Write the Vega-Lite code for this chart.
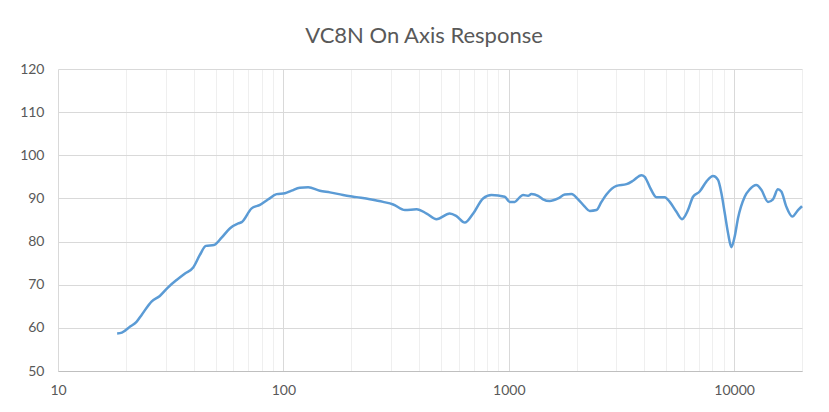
{
  "$schema": "https://vega.github.io/schema/vega-lite/v6.json",
  "autosize": "none",
  "width": 744,
  "height": 302,
  "padding": {"left": 58, "top": 69, "right": 27, "bottom": 41},
  "background": "#ffffff",
  "title": {
    "text": "VC8N On Axis Response",
    "font": "Lato",
    "fontSize": 22,
    "fontWeight": "normal",
    "color": "#595959",
    "anchor": "middle",
    "baseline": "alphabetic",
    "offset": 27,
    "dy": 30,
    "dx": -6
  },
  "config": {
    "view": {"stroke": null},
    "axis": {"labelFont": "Lato", "labelFontSize": 14, "labelColor": "#595959", "ticks": false}
  },
  "data": {
    "values": [
      {"f": 18.3, "db": 58.7}, {"f": 19.2, "db": 58.9}, {"f": 20.9, "db": 60.3}, {"f": 22.3, "db": 61.4},
      {"f": 23.5, "db": 63.0}, {"f": 26.0, "db": 66.1}, {"f": 28.3, "db": 67.4}, {"f": 30.8, "db": 69.4},
      {"f": 33.6, "db": 71.1}, {"f": 36.6, "db": 72.6}, {"f": 39.8, "db": 74.0}, {"f": 42.6, "db": 76.9},
      {"f": 45.3, "db": 79.0}, {"f": 49.2, "db": 79.2}, {"f": 53.2, "db": 80.9}, {"f": 58.0, "db": 83.1},
      {"f": 63.1, "db": 84.2}, {"f": 65.3, "db": 84.5}, {"f": 72.3, "db": 87.7}, {"f": 78.7, "db": 88.5},
      {"f": 85.7, "db": 89.8}, {"f": 93.3, "db": 91.0}, {"f": 101.6, "db": 91.2}, {"f": 108.7, "db": 91.8},
      {"f": 118.3, "db": 92.5}, {"f": 128.9, "db": 92.6}, {"f": 145, "db": 91.8}, {"f": 160.8, "db": 91.4},
      {"f": 184, "db": 90.8}, {"f": 211, "db": 90.3}, {"f": 242, "db": 89.8}, {"f": 277, "db": 89.2},
      {"f": 307, "db": 88.6}, {"f": 346, "db": 87.3}, {"f": 390, "db": 87.5}, {"f": 432, "db": 86.5},
      {"f": 478, "db": 85.2}, {"f": 547, "db": 86.5}, {"f": 586, "db": 85.9}, {"f": 638, "db": 84.4},
      {"f": 695, "db": 86.5}, {"f": 769, "db": 90.0}, {"f": 838, "db": 90.8}, {"f": 960, "db": 90.4},
      {"f": 1009, "db": 89.2}, {"f": 1063, "db": 89.2}, {"f": 1119, "db": 90.3}, {"f": 1157, "db": 90.8},
      {"f": 1218, "db": 90.6}, {"f": 1260, "db": 91.0}, {"f": 1349, "db": 90.6}, {"f": 1419, "db": 89.8},
      {"f": 1520, "db": 89.4}, {"f": 1656, "db": 90.0}, {"f": 1772, "db": 90.9}, {"f": 1898, "db": 91.0},
      {"f": 2030, "db": 89.8}, {"f": 2173, "db": 88.1}, {"f": 2287, "db": 87.1}, {"f": 2450, "db": 87.3},
      {"f": 2578, "db": 89.2}, {"f": 2712, "db": 90.9}, {"f": 3005, "db": 92.9}, {"f": 3330, "db": 93.3},
      {"f": 3560, "db": 94.1}, {"f": 3876, "db": 95.4}, {"f": 4010, "db": 95.0}, {"f": 4220, "db": 92.7},
      {"f": 4520, "db": 90.3}, {"f": 4920, "db": 90.3}, {"f": 5180, "db": 89.2}, {"f": 5545, "db": 86.9},
      {"f": 5870, "db": 85.2}, {"f": 6240, "db": 87.3}, {"f": 6570, "db": 90.4}, {"f": 7030, "db": 91.6},
      {"f": 7530, "db": 93.9}, {"f": 8060, "db": 95.2}, {"f": 8480, "db": 94.3}, {"f": 8780, "db": 91.2},
      {"f": 9090, "db": 86.5}, {"f": 9400, "db": 81.9}, {"f": 9720, "db": 78.7}, {"f": 10050, "db": 81.1},
      {"f": 10400, "db": 85.4}, {"f": 11140, "db": 90.4}, {"f": 11720, "db": 92.1}, {"f": 12540, "db": 93.1},
      {"f": 13200, "db": 92.0}, {"f": 14130, "db": 89.2}, {"f": 14870, "db": 89.8}, {"f": 15640, "db": 92.1},
      {"f": 16190, "db": 91.6}, {"f": 17040, "db": 88.1}, {"f": 18120, "db": 85.8}, {"f": 19200, "db": 87.3},
      {"f": 20000, "db": 88.2}
    ]
  },
  "mark": {"type": "line", "color": "#5b9bd5", "strokeWidth": 2.5, "interpolate": "monotone"},
  "encoding": {
    "x": {
      "field": "f",
      "type": "quantitative",
      "scale": {"type": "log", "domain": [10, 20000], "nice": false},
      "axis": {
        "title": null,
        "values": [10,20,30,40,50,60,70,80,90,100,200,300,400,500,600,700,800,900,1000,2000,3000,4000,5000,6000,7000,8000,9000,10000,20000],
        "labelExpr": "indexof([10,100,1000,10000], datum.value) >= 0 ? datum.value : ''",
        "labelPadding": 12,
        "labelFlush": false,
        "labelOverlap": false,
        "domainColor": "#bfbfbf",
        "domainWidth": 1,
        "gridColor": {"condition": {"test": "indexof([10,100,1000,10000], datum.value) >= 0", "value": "#d9d9d9"}, "value": "#efefef"},
        "gridWidth": 1
      }
    },
    "y": {
      "field": "db",
      "type": "quantitative",
      "scale": {"domain": [50, 120], "nice": false},
      "axis": {
        "title": null,
        "values": [50,60,70,80,90,100,110,120],
        "domain": false,
        "labelPadding": 14,
        "gridColor": "#d9d9d9",
        "gridWidth": 1
      }
    }
  }
}
